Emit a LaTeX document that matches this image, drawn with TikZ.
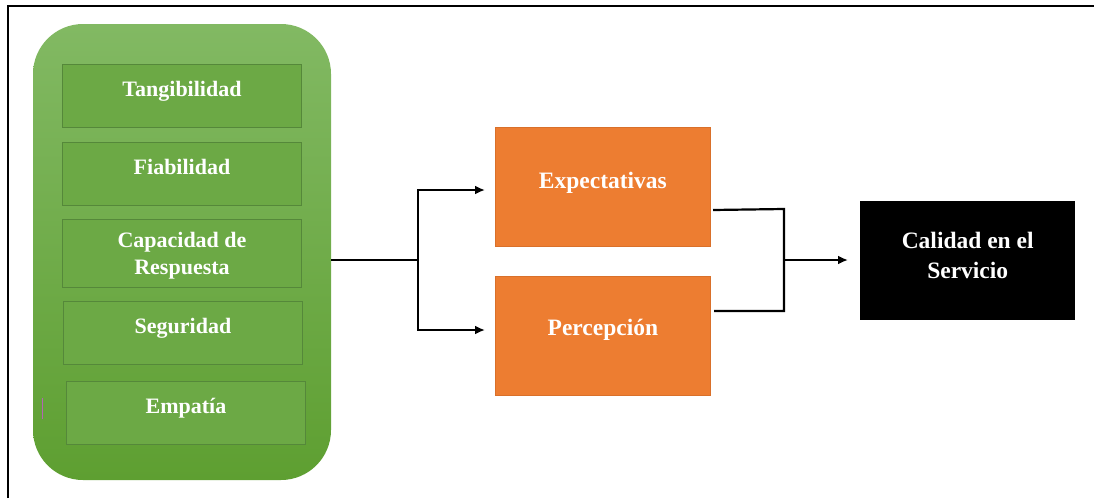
\documentclass[tikz,border=0pt]{standalone}
\usepackage{fontspec}
\setmainfont{Liberation Serif}
\usetikzlibrary{arrows.meta}

\definecolor{grtop}{HTML}{82B963}
\definecolor{grbot}{HTML}{5E9F31}
\definecolor{grbox}{HTML}{6CA945}
\definecolor{grline}{HTML}{55883A}
\definecolor{orfill}{HTML}{ED7D31}
\definecolor{orline}{HTML}{D9702A}

\tikzset{
  dimbox/.style={draw=grline, line width=1pt, fill=grbox, text=white,
    font=\bfseries\fontsize{22}{27}\selectfont, align=center,
    minimum width=239pt, minimum height=63pt, inner sep=0pt, anchor=north west},
  raised/.style={text height=15pt, text depth=15pt},
  stagebox/.style={draw=orline, line width=0.8pt, fill=orfill, text=white,
    font=\bfseries\fontsize{23.5}{28}\selectfont, align=center,
    minimum width=215pt, minimum height=119pt, inner sep=0pt, anchor=north west},
  resultbox/.style={fill=black, text=white,
    font=\bfseries\fontsize{23.5}{30}\selectfont, align=center,
    minimum width=215pt, minimum height=119pt, inner sep=0pt, anchor=north west},
  link/.style={line width=2.2pt, black},
  arrowlink/.style={link, -{Latex[length=10pt,width=9pt]}}
}

\begin{document}
\begin{tikzpicture}[x=1pt,y=-1pt]
\useasboundingbox (0,0) rectangle (1094,498);

% outer frame
\draw[line width=2pt] (7.5,498) -- (7.5,5.5) -- (1094,5.5);

% green container with vertical gradient
\shade[top color=grtop, bottom color=grbot, rounded corners=50pt]
  (33,24) rectangle (331,480);
\coordinate (gout) at (331,260);

% five dimension boxes
\node[dimbox, raised] (tang) at (62,64) {Tangibilidad};
\node[dimbox, raised] (fiab) at (62,142) {Fiabilidad};
\node[dimbox, minimum height=68pt] (capa) at (62,219) {\rule{0pt}{19pt}Capacidad de\\Respuesta};
\node[dimbox, raised] (segu) at (63,301) {Seguridad};
\node[dimbox, raised] (empa) at (66,381) {Empatía};
\draw[color=violet!60, line width=0.8pt] (42,398) -- (42,419);

% expectation and perception boxes
\node[stagebox, text height=15pt, text depth=12pt] (expe) at (495,127) {Expectativas};
\node[stagebox, raised] (perc) at (495,276) {Percepción};

% result box
\node[resultbox] (cal) at (860,201) {Calidad en el\\Servicio\rule[-10pt]{0pt}{0pt}};

% split connector
\coordinate (sp) at (418,260);
\coordinate (ea) at (485,190);
\coordinate (pa) at (485,330);
\draw[link] (gout) -- (sp);
\draw[arrowlink] (sp) |- (ea);
\draw[arrowlink] (sp) |- (pa);

% join connector
\coordinate (e1) at (713,210);
\coordinate (p1) at (714,311);
\coordinate (jn) at (784,260);
\coordinate (ca) at (848,260);
\draw[link] (e1) -- (784,209) -- (784,311) -- (p1);
\draw[arrowlink] (jn) -- (ca);
\end{tikzpicture}
\end{document}
